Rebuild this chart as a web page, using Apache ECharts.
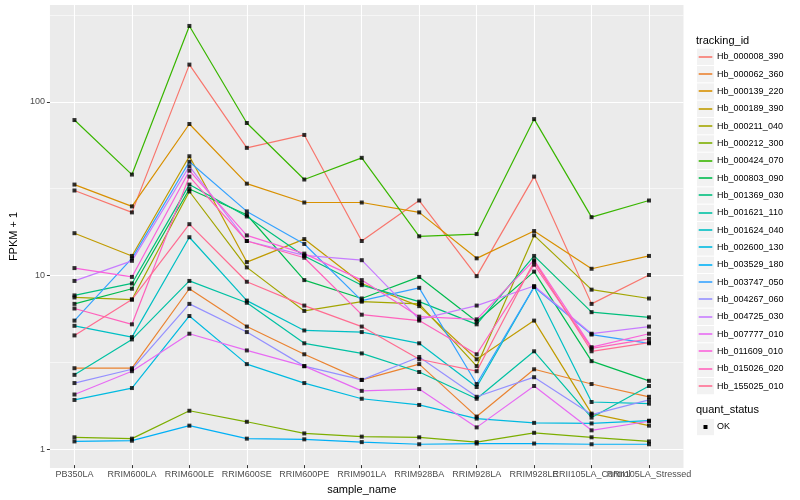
<!DOCTYPE html>
<html><head><meta charset="utf-8">
<script src="https://cdn.jsdelivr.net/npm/echarts@6/dist/echarts.min.js"></script>
<style>html,body{margin:0;padding:0;background:#fff}#c{width:800px;height:500px}</style>
</head><body><div id="c"></div>
<script>
// ---------------- data ----------------
const categories = ["PB350LA","RRIM600LA","RRIM600LE","RRIM600SE","RRIM600PE","RRIM901LA","RRIM928BA","RRIM928LA","RRIM928LE","RRII105LA_Control","RRII105LA_Stressed"];
const trackingIds = ["Hb_000008_390","Hb_000062_360","Hb_000139_220","Hb_000189_390","Hb_000211_040","Hb_000212_300","Hb_000424_070","Hb_000803_090","Hb_001369_030","Hb_001621_110","Hb_001624_040","Hb_002600_130","Hb_003529_180","Hb_003747_050","Hb_004267_060","Hb_004725_030","Hb_007777_010","Hb_011609_010","Hb_015026_020","Hb_155025_010"];
const quantStatus = ["OK"];

const hb000008_390 = [30.4, 22.7, 163, 53.7, 63.8, 15.5, 26.6, 9.7, 36.6, 6.7, 9.85];
const hb000062_360 = [2.84, 2.84, 8.2, 4.95, 3.42, 2.43, 3.0, 1.49, 2.8, 2.3, 1.94];
const hb000139_220 = [32.9, 24.6, 73.8, 33.3, 25.9, 25.9, 22.7, 12.3, 17.7, 10.7, 12.7];
const hb000189_390 = [17.2, 12.7, 48, 11.7, 15.9, 8.8, 6.5, 3.2, 5.36, 1.55, 1.32];
const hb000211_040 = [7.3, 7.1, 30, 10.9, 6.1, 6.9, 6.7, 2.92, 16.7, 8.1, 7.2];
const hb000212_300 = [1.13, 1.11, 1.61, 1.39, 1.19, 1.14, 1.13, 1.06, 1.2, 1.13, 1.07];
const hb000424_070 = [77.8, 37.6, 273, 74.8, 35.2, 47, 16.5, 17, 78.8, 21.3, 26.6];
const hb000803_090 = [6.7, 8.2, 31, 22, 9.2, 7.2, 9.6, 5.3, 10.3, 3.12, 2.4];
const hb001369_030 = [7.5, 8.8, 32.9, 21.5, 12.7, 8.6, 6.9, 5.1, 12.7, 6.0, 5.6];
const hb001621_110 = [2.6, 4.17, 9.1, 6.8, 3.96, 3.46, 2.7, 1.89, 3.56, 1.47, 2.24];
const hb001624_040 = [5.0, 4.3, 16.3, 7.0, 4.7, 4.6, 3.96, 2.21, 8.4, 1.81, 1.77];
const hb002600_130 = [1.86, 2.18, 5.7, 3.0, 2.33, 1.89, 1.74, 1.45, 1.37, 1.36, 1.41];
const hb003529_180 = [1.07, 1.08, 1.32, 1.11, 1.1, 1.06, 1.03, 1.04, 1.04, 1.03, 1.03];
const hb003747_050 = [5.36, 12.3, 44.6, 23, 14.9, 7.0, 8.3, 2.3, 8.4, 4.45, 3.96];
const hb004267_060 = [2.33, 2.8, 6.7, 4.6, 2.92, 2.43, 3.3, 1.94, 2.52, 1.53, 1.86];
const hb004725_030 = [9.1, 11.9, 42, 15.5, 12.8, 12.0, 5.45, 6.55, 8.5, 4.5, 4.95];
const hb007777_010 = [2.0, 2.73, 4.5, 3.6, 2.92, 2.1, 2.15, 1.29, 2.24, 1.24, 1.4];
const hb011609_010 = [10.8, 9.6, 39.6, 16.7, 13.1, 9.2, 5.65, 5.45, 12.0, 3.76, 4.5];
const hb015026_020 = [6.3, 5.1, 36.6, 15.5, 12.4, 5.8, 5.36, 3.42, 11.3, 3.7, 4.2];
const hb155025_010 = [4.4, 7.1, 19.4, 9.0, 6.55, 4.95, 3.2, 2.73, 11.8, 3.56, 4.0];

const yMajorTicks = [1, 10, 100];
const yMinorTicks = [3.1623, 31.623, 316.23];

const seriesValues = [hb000008_390, hb000062_360, hb000139_220, hb000189_390, hb000211_040, hb000212_300, hb000424_070, hb000803_090, hb001369_030, hb001621_110, hb001624_040, hb002600_130, hb003529_180, hb003747_050, hb004267_060, hb004725_030, hb007777_010, hb011609_010, hb015026_020, hb155025_010];

// ---------------- style ----------------
const palette = ["#F8766D","#EA8331","#D89000","#C09B00","#A3A500","#7CAE00","#39B600","#00BB4E","#00BF7D","#00C1A3","#00BFC4","#00BAE0","#00B0F6","#35A2FF","#9590FF","#C77CFF","#E76BF3","#FA62DB","#FF62BC","#FF6C91"];
const FONT = '"Liberation Sans", Arial, Helvetica, sans-serif';
const yMin = 0.78, yMax = 361;
const panel = {left: 40, right: 683.5, top: 5, bottom: 468};
const catStep = (panel.right - panel.left) / (categories.length - 1 + 1.2);
const firstCat = panel.left + 0.6 * catStep;
const lastCat = panel.right - 0.6 * catStep;

const lineSeries = seriesValues.map((vals, i) => ({
  type: 'line', name: trackingIds[i], xAxisIndex: 0, yAxisIndex: 0,
  data: vals, showSymbol: false, symbol: 'none', clip: false, z: 2,
  lineStyle: {color: palette[i], width: 1.2}, itemStyle: {color: palette[i]},
  emphasis: {disabled: true}, animation: false
}));
const pointData = [];
seriesValues.forEach(vals => vals.forEach((v, j) => pointData.push([j, v])));
const pointSeries = {
  type: 'scatter', name: quantStatus[0], xAxisIndex: 0, yAxisIndex: 0,
  data: pointData, symbol: 'rect', symbolSize: 4, clip: false, z: 5,
  itemStyle: {color: '#000'}, emphasis: {disabled: true}, animation: false
};

// legend as graphics
const graphics = [];
const lgX = 697, lgTop = 56.8, lgStep = 17.33;
graphics.push({type: 'text', x: 696, y: 41, style: {text: 'tracking_id', fill: '#000', font: '11px ' + FONT, align: 'left', verticalAlign: 'middle'}});
trackingIds.forEach((name, i) => {
  const cy = lgTop + i * lgStep;
  const ly = Math.round(cy);
  graphics.push({type: 'rect', z: 10, shape: {x: lgX, y: cy - 8.1, width: 17, height: 16.3}, style: {fill: '#F2F2F2'}});
  graphics.push({type: 'line', z: 11, shape: {x1: lgX + 1.7, y1: ly, x2: lgX + 15.3, y2: ly}, style: {stroke: palette[i], lineWidth: 1.6}});
  graphics.push({type: 'text', z: 11, x: 717, y: cy, style: {text: name, fill: '#000', font: '9px ' + FONT, align: 'left', verticalAlign: 'middle'}});
});
const qsTitleY = 410, qsY = 427;
graphics.push({type: 'text', x: 696, y: qsTitleY, style: {text: 'quant_status', fill: '#000', font: '11px ' + FONT, align: 'left', verticalAlign: 'middle'}});
graphics.push({type: 'rect', z: 10, shape: {x: lgX, y: qsY - 8.1, width: 17, height: 16.3}, style: {fill: '#F2F2F2'}});
graphics.push({type: 'rect', z: 11, shape: {x: lgX + 6.5, y: qsY - 2, width: 4, height: 4}, style: {fill: '#000'}});
graphics.push({type: 'text', z: 11, x: 717, y: qsY, style: {text: quantStatus[0], fill: '#000', font: '9px ' + FONT, align: 'left', verticalAlign: 'middle'}});

const chart = echarts.init(document.getElementById('c'));
chart.setOption({
  animation: false,
  backgroundColor: '#fff',
  textStyle: {fontFamily: FONT},
  grid: [
    {left: firstCat, right: 800 - lastCat, top: panel.top, bottom: 500 - panel.bottom, containLabel: false},
    {left: panel.left, right: 800 - panel.right, top: panel.top, bottom: 500 - panel.bottom, show: true, backgroundColor: '#EBEBEB', borderWidth: 0, z: -1}
  ],
  xAxis: [
    {type: 'category', gridIndex: 0, data: categories, boundaryGap: false,
     axisLine: {show: false},
     axisTick: {show: true, length: 3, lineStyle: {color: '#333', width: 1}, alignWithLabel: true},
     axisLabel: {interval: 0, margin: 5, color: '#4D4D4D', fontSize: 9, fontFamily: FONT, hideOverlap: false},
     splitLine: {show: true, lineStyle: {color: '#fff', width: 1.1}},
     name: 'sample_name', nameLocation: 'middle', nameGap: 15,
     nameTextStyle: {color: '#000', fontSize: 11, fontFamily: FONT}},
    {type: 'value', gridIndex: 1, min: 0, max: 1, show: false}
  ],
  yAxis: [
    {type: 'log', logBase: 10, gridIndex: 0, min: yMin, max: yMax, show: false},
    {type: 'log', logBase: 10, gridIndex: 1, min: yMin, max: yMax, position: 'left',
     axisLine: {show: false},
     axisTick: {show: true, length: 3, lineStyle: {color: '#333', width: 1}, customValues: yMajorTicks},
     axisLabel: {margin: 5, color: '#4D4D4D', fontSize: 9, fontFamily: FONT, customValues: yMajorTicks},
     splitLine: {show: true, lineStyle: {color: '#fff', width: 1.1}},
     name: 'FPKM + 1', nameLocation: 'middle', nameGap: 22, nameRotate: 90,
     nameTextStyle: {color: '#000', fontSize: 11, fontFamily: FONT}},
    {type: 'log', logBase: 10, gridIndex: 1, min: yMin, max: yMax, position: 'left',
     axisLine: {show: false}, axisLabel: {show: false},
     axisTick: {show: false, customValues: yMinorTicks},
     splitLine: {show: true, lineStyle: {color: '#fff', width: 0.55}}}
  ],
  series: lineSeries.concat([pointSeries]),
  graphic: graphics
});
</script></body></html>
